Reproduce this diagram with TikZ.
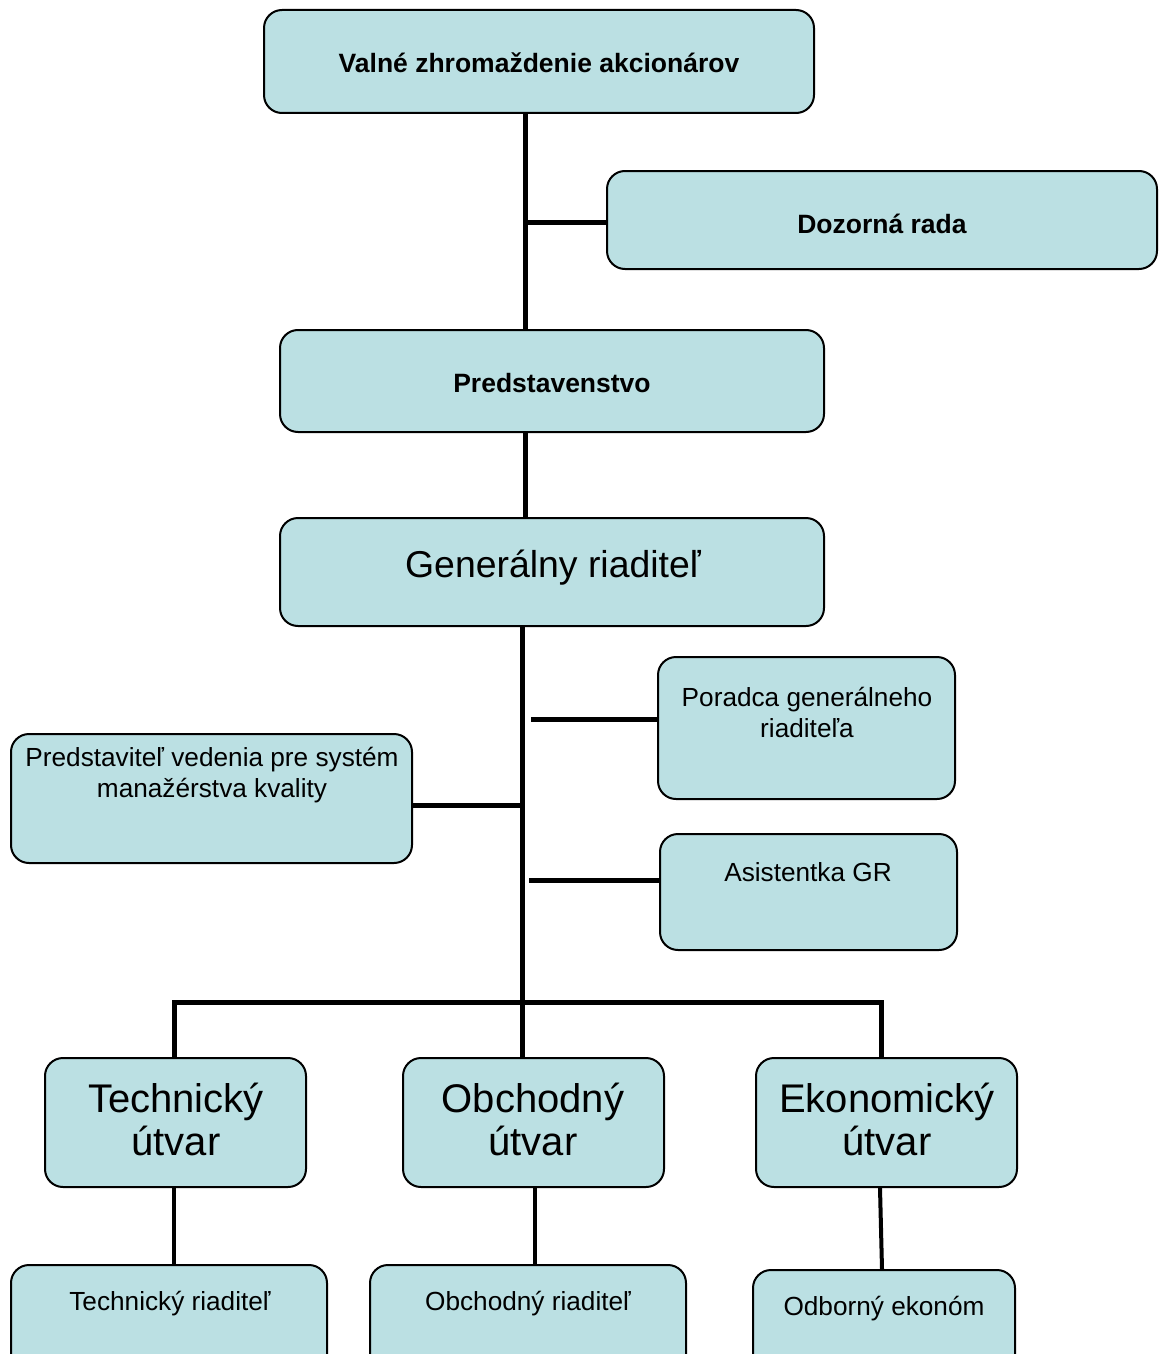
\documentclass[tikz,border=0pt]{standalone}
\usepackage{fontspec}
\setmainfont{Liberation Sans}
\usetikzlibrary{calc}
\definecolor{boxfill}{RGB}{187,224,227}
\begin{document}
\begin{tikzpicture}[x=0.5pt,y=-0.5pt,
  box/.style={draw=black,line width=1pt,fill=boxfill,rounded corners=9pt,inner sep=0pt},
  bold/.style={font=\fontsize{13.25pt}{16pt}\selectfont\bfseries,anchor=base,inner sep=0pt},
  small/.style={font=\fontsize{13.1pt}{15.5pt}\selectfont,anchor=base,inner sep=0pt,align=center},
  big/.style={font=\fontsize{20pt}{21.5pt}\selectfont,anchor=base,inner sep=0pt,align=center},
  thickline/.style={line width=2.5pt},
  thinline/.style={line width=2pt}]
\clip (0,0) rectangle (1159,1354);
\fill[white] (0,0) rectangle (1159,1354);
% boxes
\node[box,minimum width=275pt,minimum height=51.5pt] (valne) at (539,61.5) {};
\node[box,minimum width=275pt,minimum height=49pt] (dozor) at (882,220) {};
\node[box,minimum width=272pt,minimum height=51pt] (pred) at (552,381) {};
\node[box,minimum width=272pt,minimum height=54pt] (gr) at (552,572) {};
\node[box,minimum width=148.5pt,minimum height=71pt] (por) at (806.5,728) {};
\node[box,minimum width=200.5pt,minimum height=64.5pt] (pvs) at (211.5,798.5) {};
\node[box,minimum width=148.5pt,minimum height=58pt] (asis) at (808.5,892) {};
\node[box,minimum width=130.5pt,minimum height=64.5pt] (tu) at (175.5,1122.5) {};
\node[box,minimum width=130.5pt,minimum height=64.5pt] (ou) at (533.5,1122.5) {};
\node[box,minimum width=130.5pt,minimum height=64.5pt] (eu) at (886.5,1122.5) {};
\node[box,minimum width=158pt,minimum height=75pt] (tr) at (169,1340) {};
\node[box,minimum width=158pt,minimum height=75pt] (obr) at (528,1340) {};
\node[box,minimum width=131pt,minimum height=75pt] (ek) at (884,1345) {};
% texts
\node[bold] (tvalne) at (539,72.5) {Valné zhromaždenie akcionárov};
\node[bold] (tdozor) at (882,233.5) {Dozorná rada};
\node[bold] (tpred) at (552,392.5) {Predstavenstvo};
\node[font=\fontsize{18.7pt}{22pt}\selectfont,anchor=base,inner sep=0pt] (tgr) at (553,577) {Generálny riaditeľ};
\node[small] (tpor) at (807,737) {Poradca generálneho\\riaditeľa};
\node[small] (tpvs) at (212,797) {Predstaviteľ vedenia pre systém\\manažérstva kvality};
\node[small] (tasis) at (808,881) {Asistentka GR};
\node[big] (ttu) at (176,1155) {Technický\\útvar};
\node[big] (tou) at (533,1155) {Obchodný\\útvar};
\node[big] (teu) at (887,1155) {Ekonomický\\útvar};
\node[small] (ttr) at (170,1310) {Technický riaditeľ};
\node[small] (tobr) at (528,1310) {Obchodný riaditeľ};
\node[small] (tek) at (884,1315) {Odborný ekonóm};
% junction coordinates
\coordinate (j1) at (525,222);
\coordinate (s1) at (531,719);
\coordinate (jq) at (522,805);
\coordinate (s2) at (529,880);
\coordinate (bl) at (174,1002);
\coordinate (br) at (881,1002);
\coordinate (bm) at (522,1002);
% connectors
\draw[thickline] (valne.south -| j1) -- (pred.north -| j1);
\draw[thickline] (j1) -- (j1 -| dozor.west);
\draw[thickline] (pred.south -| j1) -- (gr.north -| j1);
\draw[thickline] (gr.south -| bm) -- (ou.north -| bm);
\draw[thickline] (s1) -- (s1 -| por.west);
\draw[thickline] (jq) -- (jq -| pvs.east);
\draw[thickline] (s2) -- (s2 -| asis.west);
\draw[thickline,line join=miter] (tu.north -| bl) -- (bl) -- (br) -- (eu.north -| br);
\draw[thinline] (tu.south -| bl) -- (tr.north -| bl);
\draw[thinline] ($(ou.south)+(1.5,0)$) -- ($(obr.north)+(7,0)$);
\draw[thinline] ($(eu.south)+(-6.5,0)$) -- ($(ek.north)+(-2,0)$);
\end{tikzpicture}
\end{document}
